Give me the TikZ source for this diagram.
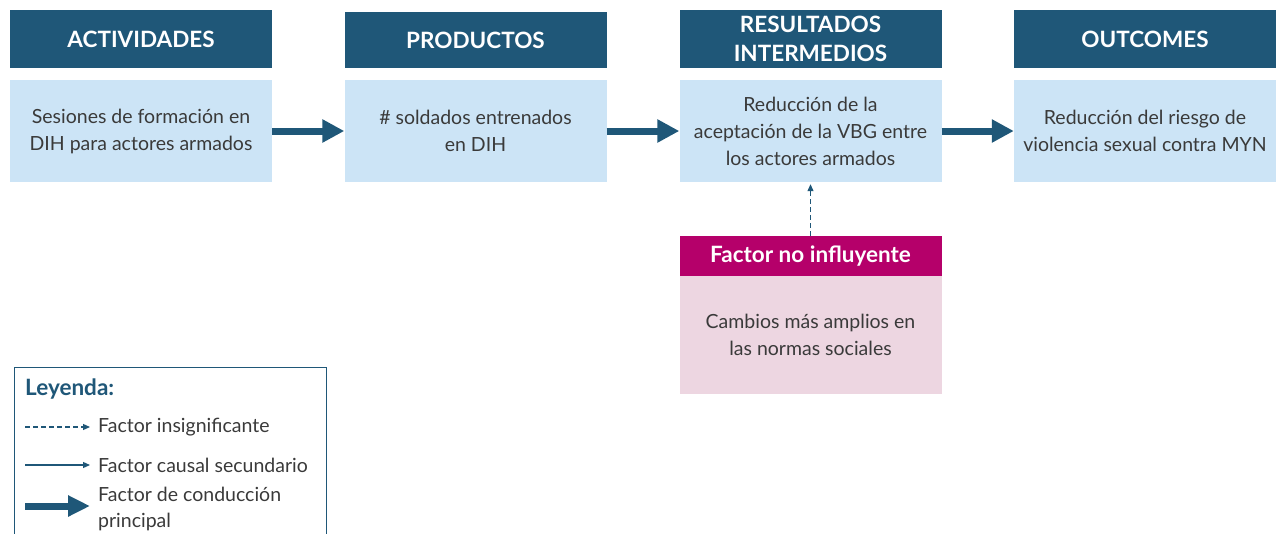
\documentclass[tikz,border=0pt]{standalone}
\usepackage{fontspec}
\setmainfont{Lato}
\usetikzlibrary{positioning,calc,arrows.meta}
\definecolor{hdrblue}{HTML}{1F5778}
\definecolor{bodyblue}{HTML}{CCE4F6}
\definecolor{hdrpink}{HTML}{B5006A}
\definecolor{bodypink}{HTML}{EDD6E1}
\definecolor{txtgray}{HTML}{3A3A3A}

\begin{document}
\begin{tikzpicture}
      [x=1pt,y=-1pt,
      header/.style={fill=hdrblue,text=white,font=\fontsize{22.5}{29}\selectfont\bfseries,minimum width=262pt,minimum height=58pt,inner sep=0pt,align=center},
      body/.style={fill=bodyblue,text=txtgray,font=\fontsize{19.5}{27}\selectfont,minimum width=262pt,minimum height=102pt,inner sep=0pt,align=center},
      mainarrow/.style={-{Triangle[length=22pt,width=22pt]},line width=7pt,draw=hdrblue},
      thinarrow/.style={-{Triangle[length=7pt,width=6pt]},line width=1.2pt,draw=hdrblue},
      legtext/.style={anchor=west,text=txtgray,font=\fontsize{19.5}{26}\selectfont,inner sep=0pt,align=left}]
     \useasboundingbox (0,0) rectangle (1277,533);
     % headers
     \node[header] (hact) at (141,39) {ACTIVIDADES};
     \node[header,minimum height=56pt] (hprod) at (475.5,40) {PRODUCTOS};
     \node[header] (hres) at (810.5,39) {RESULTADOS\\INTERMEDIOS};
     \node[header] (hout) at (1145,39) {OUTCOMES};
     % boxes
     \node[body] (act) at (141,131) {Sesiones de formación en\\DIH para actores armados};
     \node[body] (prod) at (475.5,131) {\# soldados entrenados\\en DIH};
     \node[body] (res) at (810.5,131) {Reducción de la\\aceptación de la VBG entre\\los actores armados};
     \node[body] (out) at (1145,131) {Reducción del riesgo de\\violencia sexual contra MYN};
     \draw[mainarrow] (act.east) -- (prod.west);
     \draw[mainarrow] (prod.east) -- (res.west);
     \draw[mainarrow] (res.east) -- (out.west);
     % factor
     \node[header,fill=hdrpink,minimum height=40pt,font=\fontsize{22.5}{24}\selectfont\bfseries] (hfac) at (810.5,256) {Factor no influyente};
     \node[body,fill=bodypink,minimum height=118pt] (fac) at (810.5,335) {Cambios más amplios en\\las normas sociales};
     \draw[thinarrow,dash pattern=on 5pt off 3pt] (hfac.north) -- ([yshift=-2pt]res.south);
     % legend
     \draw[hdrblue,line width=0.8pt] (14,540) -- (14,367) -- (326,367) -- (326,540);
     \node[anchor=west,text=hdrblue,font=\fontsize{22.5}{24}\selectfont\bfseries,inner sep=0pt] (ley) at (25,389) {Leyenda:};
     \coordinate (d1) at (25,427);
     \coordinate (d2) at (90,427);
     \coordinate (s1) at (25,465);
     \coordinate (s2) at (90,465);
     \coordinate (m1) at (25,506);
     \coordinate (m2) at (90,506);
     \draw[thinarrow,dash pattern=on 5pt off 3pt] (d1) -- (d2);
     \draw[thinarrow] (s1) -- (s2);
     \draw[mainarrow,-{Triangle[length=22pt,width=20pt]}] (m1) -- (m2);
     \node[legtext] at (98,427) {Factor insignificante};
     \node[legtext] at (98,465) {Factor causal secundario};
     \node[legtext] at (98,509) {Factor de conducción\\principal};
    \end{tikzpicture}
\end{document}
